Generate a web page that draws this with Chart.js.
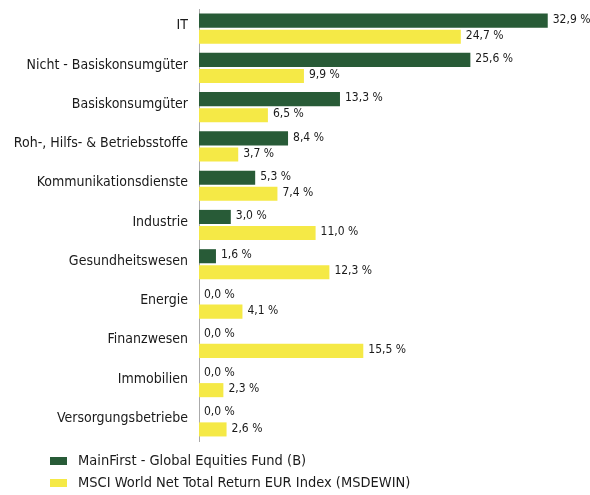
<!DOCTYPE html>
<html>
<head>
<meta charset="utf-8">
<script src="https://cdn.jsdelivr.net/npm/chart.js@4/dist/chart.umd.min.js"></script>
<style>
  body { margin: 0; background: #fff; font-family: "DejaVu Sans Condensed", sans-serif; }
  #wrap { position: relative; width: 590px; height: 450px; }
  #legend { position: absolute; left: 50px; top: 449px; color: #1a1a1a; font-size: 14.5px; }
  #legend div { height: 22px; line-height: 22px; white-space: nowrap; }
  #legend span { display: inline-block; width: 17px; height: 8px; margin-right: 11px; vertical-align: middle; }
</style>
</head>
<body>
<div id="wrap"><canvas id="sector-chart"></canvas></div>
<div id="legend"></div>
<script>
var sectors = [
  'IT',
  'Nicht - Basiskonsumgüter',
  'Basiskonsumgüter',
  'Roh-, Hilfs- & Betriebsstoffe',
  'Kommunikationsdienste',
  'Industrie',
  'Gesundheitswesen',
  'Energie',
  'Finanzwesen',
  'Immobilien',
  'Versorgungsbetriebe'
];
var fundWeights = [32.9, 25.6, 13.3, 8.4, 5.3, 3.0, 1.6, 0.0, 0.0, 0.0, 0.0];
var indexWeights = [24.7, 9.9, 6.5, 3.7, 7.4, 11.0, 12.3, 4.1, 15.5, 2.3, 2.6];

var fontFamily = '"DejaVu Sans Condensed", sans-serif';

// value labels at the end of each bar
var barLabels = {
  id: 'barLabels',
  afterDatasetsDraw: function(chart) {
    var ctx = chart.ctx;
    ctx.save();
    ctx.font = '12px ' + fontFamily;
    ctx.fillStyle = '#1a1a1a';
    ctx.textBaseline = 'middle';
    ctx.textAlign = 'left';
    chart.data.datasets.forEach(function(ds, i) {
      chart.getDatasetMeta(i).data.forEach(function(bar, j) {
        var txt = ds.data[j].toFixed(1).replace('.', ',') + ' %';
        ctx.fillText(txt, bar.x + 5, bar.y - 1);
      });
    });
    ctx.restore();
  }
};

var sectorChart = new Chart(document.getElementById('sector-chart').getContext('2d'), {
  type: 'bar',
  data: {
    labels: sectors,
    datasets: [{
      label: 'MainFirst - Global Equities Fund (B)',
      data: fundWeights,
      backgroundColor: '#285b37'
    }, {
      label: 'MSCI World Net Total Return EUR Index (MSDEWIN)',
      data: indexWeights,
      backgroundColor: '#f5e946'
    }]
  },
  options: {
    indexAxis: 'y',
    responsive: true,
    maintainAspectRatio: false,
    animation: false,
    layout: {
      padding: { top: 9, bottom: 9, right: 20, left: 0 }
    },
    datasets: {
      bar: { categoryPercentage: 0.82, barPercentage: 0.875 }
    },
    scales: {
      x: { display: false, min: 0, max: 35 },
      y: {
        grid: { display: false },
        border: { display: true, color: '#aaa', width: 1 },
        afterFit: function(scale) {
          scale.width = 199;
          scale.paddingTop = 0;
          scale.paddingBottom = 0;
        },
        ticks: {
          color: '#1a1a1a',
          padding: 3,
          labelOffset: -3,
          font: { family: fontFamily, size: 14 }
        }
      }
    },
    plugins: {
      legend: { display: false },
      tooltip: { enabled: false }
    }
  },
  plugins: [barLabels]
});

var legend = document.getElementById('legend');
sectorChart.data.datasets.forEach(function(ds) {
  var row = document.createElement('div');
  var box = document.createElement('span');
  box.style.background = ds.backgroundColor;
  row.appendChild(box);
  row.appendChild(document.createTextNode(ds.label));
  legend.appendChild(row);
});
</script>
</body>
</html>
